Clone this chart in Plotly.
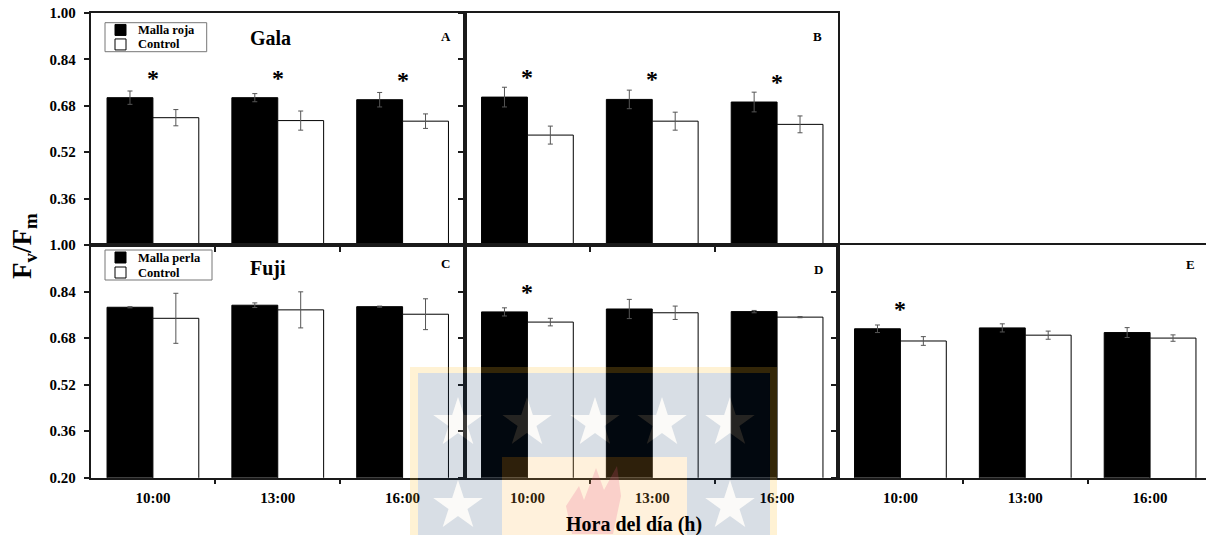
import math
import plotly.graph_objects as go

# ---------------------------------------------------------------- data
hours = ["10:00", "13:00", "16:00"]
yticks = [0.20, 0.36, 0.52, 0.68, 0.84, 1.00]

# Gala (malla roja) - panels A and B
a_net = [0.708, 0.708, 0.701]
a_net_err = [0.023, 0.014, 0.025]
a_ctrl = [0.639, 0.629, 0.627]
a_ctrl_err = [0.028, 0.033, 0.025]

b_net = [0.710, 0.702, 0.693]
b_net_err = [0.034, 0.032, 0.034]
b_ctrl = [0.579, 0.627, 0.616]
b_ctrl_err = [0.031, 0.031, 0.029]

# Fuji (malla perla) - panels C, D and E
c_net = [0.786, 0.793, 0.788]
c_net_err = [0.002, 0.008, 0.002]
c_ctrl = [0.748, 0.777, 0.762]
c_ctrl_err = [0.086, 0.062, 0.053]

d_net = [0.770, 0.780, 0.771]
d_net_err = [0.014, 0.033, 0.004]
d_ctrl = [0.735, 0.767, 0.752]
d_ctrl_err = [0.013, 0.023, 0.002]

e_net = [0.712, 0.715, 0.699]
e_net_err = [0.013, 0.014, 0.017]
e_ctrl = [0.670, 0.690, 0.680]
e_ctrl_err = [0.015, 0.014, 0.011]

# significant differences (*) per hour
a_sig = [True, True, True]
b_sig = [True, True, True]
c_sig = [False, False, False]
d_sig = [True, False, False]
e_sig = [True, False, False]

panel_letters = ["A", "B", "C", "D", "E"]

# ---------------------------------------------------------------- layout helpers
W, H = 1206, 535
SERIF = "Liberation Serif"


def px(x):
    return x / W


def py(y):
    return 1 - y / H


# plot frame (pixels)
x_left, x_mid1, x_mid2 = 90.5, 465.0, 838.0
y_top, y_mid, y_bot = 13.0, 245.0, 477.7

col_dom = [[px(x_left), px(x_mid1)], [px(x_mid1), px(x_mid2)], [px(x_mid2), 1.0]]
top_dom = [py(y_mid), py(y_top)]
bot_dom = [py(y_bot), py(y_mid)]
unit_px = (x_mid1 - x_left) / 3.0  # pixels per category

panels = [
    # (net, net_err, ctrl, ctrl_err, sig, col, row)
    (a_net, a_net_err, a_ctrl, a_ctrl_err, a_sig, 0, 0),
    (b_net, b_net_err, b_ctrl, b_ctrl_err, b_sig, 1, 0),
    (c_net, c_net_err, c_ctrl, c_ctrl_err, c_sig, 0, 1),
    (d_net, d_net_err, d_ctrl, d_ctrl_err, d_sig, 1, 1),
    (e_net, e_net_err, e_ctrl, e_ctrl_err, e_sig, 2, 1),
]

fig = go.Figure()
layout = dict(
    width=W, height=H,
    margin=dict(l=0, r=0, t=0, b=0, autoexpand=False),
    paper_bgcolor="white", plot_bgcolor="white",
    barmode="group", bargap=0.265, bargroupgap=0.0,
    showlegend=False,
    font=dict(family=SERIF, color="black"),
)
annotations = []
shapes = []

line_col = "#1a1a1a"
pos = [0, 1, 2]


def paper_text(x, y, text, size, **kw):
    d = dict(x=px(x), y=py(y), xref="paper", yref="paper", text=text,
             showarrow=False, xanchor="center", yanchor="middle",
             font=dict(family=SERIF, size=size, weight="bold", color="black"))
    d.update(kw)
    return d


for i, (net, net_err, ctrl, ctrl_err, sig, col, row) in enumerate(panels):
    n = i + 1
    xa = "x" if n == 1 else f"x{n}"
    ya = "y" if n == 1 else f"y{n}"
    xkey = "xaxis" if n == 1 else f"xaxis{n}"
    ykey = "yaxis" if n == 1 else f"yaxis{n}"

    err_style = dict(type="data", visible=True, color="#555555", thickness=1, width=2.5)
    fig.add_trace(go.Bar(
        x=pos, y=net, xaxis=xa, yaxis=ya,
        marker=dict(color="black", line=dict(color="black", width=1)),
        error_y=dict(array=net_err, **err_style),
    ))
    fig.add_trace(go.Bar(
        x=pos, y=ctrl, xaxis=xa, yaxis=ya,
        marker=dict(color="white", line=dict(color="black", width=1)),
        error_y=dict(array=ctrl_err, **err_style),
    ))

    dom_w = (col_dom[col][1] - col_dom[col][0]) * W
    xr = [-0.5, -0.5 + dom_w / unit_px]
    layout[xkey] = dict(
        domain=col_dom[col], anchor=ya, range=xr, automargin=False,
        tickmode="array", tickvals=pos, ticktext=hours,
        showticklabels=(row == 1), ticks="", ticklabelstandoff=6,
        tickfont=dict(family=SERIF, size=15, weight="bold"),
        minor=dict(tickmode="array", tickvals=[0.5, 1.5], ticks="outside",
                   ticklen=5, tickwidth=1.5, tickcolor=line_col),
        showline=True, linecolor=line_col, linewidth=1.5, mirror=True,
        showgrid=False, zeroline=False, fixedrange=True,
    )
    if col == 0:
        tv = yticks if row == 1 else yticks[1:]
    else:
        tv = yticks
    layout[ykey] = dict(
        domain=top_dom if row == 0 else bot_dom, anchor=xa, range=[0.2, 1.0],
        automargin=False,
        tickmode="array", tickvals=tv, tickformat=".2f",
        showticklabels=(col == 0), ticks="outside", ticklen=5, tickwidth=1.5,
        tickcolor=line_col, ticklabelstandoff=5,
        tickfont=dict(family=SERIF, size=15, weight="bold"),
        showline=True, linecolor=line_col, linewidth=1.5, mirror=(col != 2),
        showgrid=False, zeroline=False, fixedrange=True,
    )

    # significance asterisks, placed a fixed distance above the mesh bar
    for k in range(3):
        if sig[k]:
            annotations.append(dict(
                x=pos[k], y=net[k] + 0.076, xref=xa, yref=ya, text="*",
                showarrow=False, xanchor="center", yanchor="middle", yshift=-2,
                font=dict(family=SERIF, size=24, weight="bold", color="black"),
            ))

# panel letters
letter_pos = [(446, 37), (817, 36), (445, 263), (818, 269), (1190, 265)]
for letter, (lx, ly) in zip(panel_letters, letter_pos):
    annotations.append(paper_text(lx, ly, letter, 13))

# cultivar names
annotations.append(paper_text(270, 38, "Gala", 20))
annotations.append(paper_text(268, 268, "Fuji", 20))


# in-panel legends
def add_legend(x0, y0, x1, y1, label):
    shapes.append(dict(type="rect", xref="paper", yref="paper",
                       x0=px(x0), x1=px(x1), y0=py(y0), y1=py(y1),
                       line=dict(color="#777777", width=1), fillcolor="white"))
    rows = [(label, "black"), ("Control", "white")]
    h = (y1 - y0) / 2
    for j, (txt, fill) in enumerate(rows):
        cy = y0 + h * (j + 0.5)
        shapes.append(dict(type="rect", xref="paper", yref="paper",
                           x0=px(x0 + 10), x1=px(x0 + 21),
                           y0=py(cy - 5.5), y1=py(cy + 5.5),
                           line=dict(color="black", width=1), fillcolor=fill))
        annotations.append(paper_text(x0 + 31, cy, txt, 12.5, xanchor="left"))


add_legend(105, 22.7, 206.7, 51.7, "Malla roja")
add_legend(105, 250, 212, 280, "Malla perla")

# axis titles
annotations.append(paper_text(24, 246, "F<sub>v</sub>/F<sub>m</sub>", 27, textangle=-90))
annotations.append(paper_text(634, 524, "Hora del día (h)", 20))


# ---------------------------------------------------------------- repository watermark
def star_pts(cx, cy, r, reverse=False):
    pts = []
    for k in range(10):
        ang = -math.pi / 2 + k * math.pi / 5
        rr = r if k % 2 == 0 else r * 0.382
        pts.append((cx + rr * math.cos(ang), cy + rr * math.sin(ang)))
    if reverse:
        pts = pts[::-1]
    return pts


def poly_path(pts):
    return "M" + "L".join(f"{px(a):.5f},{py(b):.5f}" for a, b in pts) + "Z"


wm_x0, wm_x1, wm_y0 = 410, 777, 367
in_x0, in_x1, in_y0 = 418, 770, 373
or_x0, or_x1, or_y0 = 502, 687, 457
star_r = 26
stars = [(458, 423), (527, 423), (595, 423), (662, 423), (730, 423), (458, 506), (730, 506)]

gold = dict(fillcolor="rgb(255,190,40)", opacity=0.2, line=dict(width=0), layer="above")
for (a, b, c, d) in [(wm_x0, wm_y0, wm_x1, in_y0), (wm_x0, in_y0, in_x0, H),
                     (in_x1, in_y0, wm_x1, H)]:
    shapes.append(dict(type="rect", xref="paper", yref="paper",
                       x0=px(a), x1=px(c), y0=py(b), y1=py(d), **gold))

# blue field with star-shaped holes
blue_path = ""
for (a, b, c, d) in [(in_x0, in_y0, in_x1, or_y0), (in_x0, or_y0, or_x0, H),
                     (or_x1, or_y0, in_x1, H)]:
    blue_path += poly_path([(a, b), (c, b), (c, d), (a, d)])
for sx, sy in stars:
    blue_path += poly_path(star_pts(sx, sy, star_r, reverse=True))
shapes.append(dict(type="path", xref="paper", yref="paper", path=blue_path,
                   fillcolor="rgb(12,50,94)", opacity=0.16, line=dict(width=0),
                   layer="above"))
for sx, sy in stars:
    shapes.append(dict(type="path", xref="paper", yref="paper",
                       path=poly_path(star_pts(sx, sy, star_r)),
                       fillcolor="rgb(230,224,212)", opacity=0.16, line=dict(width=0),
                       layer="above"))

shapes.append(dict(type="rect", xref="paper", yref="paper",
                   x0=px(or_x0), x1=px(or_x1), y0=py(or_y0), y1=py(H),
                   fillcolor="rgb(255,180,60)", opacity=0.18, line=dict(width=0),
                   layer="above"))
flame = [(572, 534), (566, 506), (579, 486), (584, 500), (596, 468), (604, 490),
         (617, 466), (621, 496), (613, 534)]
shapes.append(dict(type="path", xref="paper", yref="paper", path=poly_path(flame),
                   fillcolor="rgb(230,80,130)", opacity=0.2, line=dict(width=0),
                   layer="above"))

layout["annotations"] = annotations
layout["shapes"] = shapes
fig.update_layout(**layout)

fig.write_html("out.html")
